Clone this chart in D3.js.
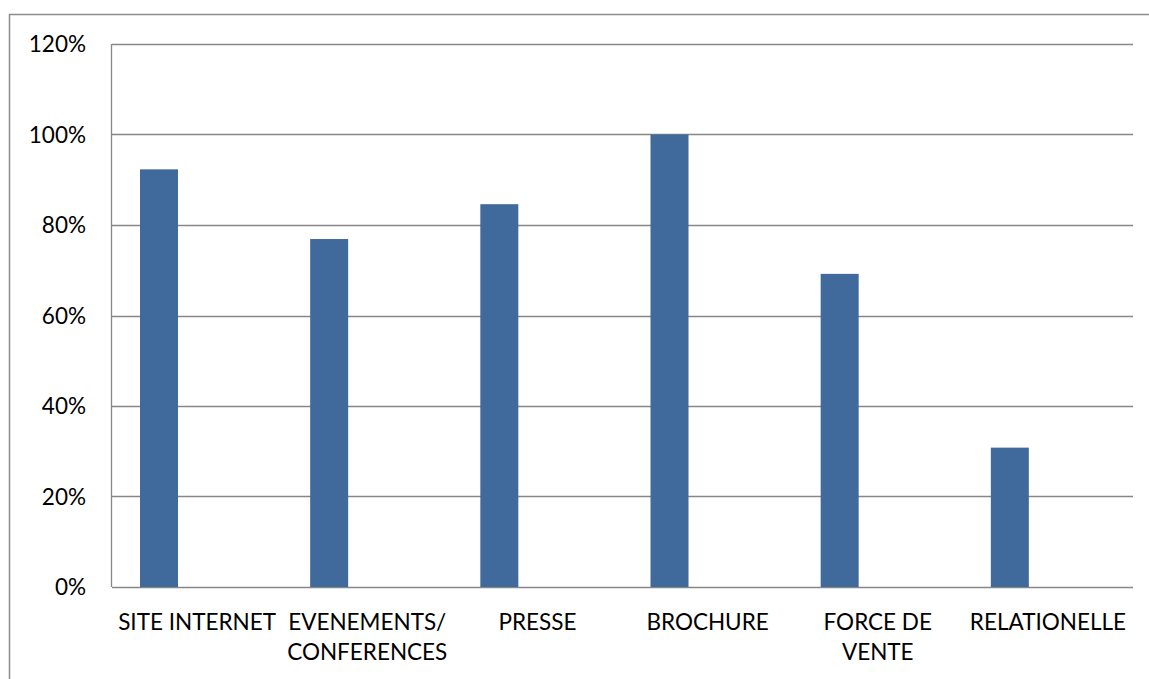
<!DOCTYPE html>
<html>
<head>
<meta charset="utf-8">
<script src="https://cdn.jsdelivr.net/npm/d3@7"></script>
<style>
  body { margin: 0; background: #fff; }
  text { font-family: Lato, "Open Sans", sans-serif; fill: #000; }
</style>
</head>
<body>
<div id="chart"></div>
<script>
// data
var categories = ["SITE INTERNET", "EVENEMENTS/\nCONFERENCES", "PRESSE", "BROCHURE", "FORCE DE\nVENTE", "RELATIONELLE"];
var values = [0.923, 0.769, 0.846, 1.0, 0.692, 0.308];
var yTicks = [0, 0.2, 0.4, 0.6, 0.8, 1.0, 1.2];

var svgWidth = 1149;
var svgHeight = 679;

var margin = { top: 44, right: 16, bottom: 92, left: 112 };
var width = 1133 - margin.left;
var height = 587 - margin.top;

var svg = d3.select("#chart")
  .append("svg")
  .attr("width", svgWidth)
  .attr("height", svgHeight);

// outer frame
svg.append("rect")
  .attr("x", 9.5)
  .attr("y", 14.5)
  .attr("width", svgWidth)
  .attr("height", svgHeight)
  .attr("fill", "none")
  .attr("stroke", "#8c8c8c")
  .attr("stroke-width", 1.5);

var chartGroup = svg.append("g")
  .attr("transform", `translate(${margin.left}, ${margin.top})`);

// scales
var xScale = d3.scaleBand()
  .domain(categories)
  .range([0, width]);

var yScale = d3.scaleLinear()
  .domain([0, 1.2])
  .range([height, 0]);

// gridlines
chartGroup.selectAll(".grid")
  .data(yTicks)
  .enter()
  .append("line")
  .attr("x1", 0)
  .attr("x2", width)
  .attr("y1", d => Math.round(yScale(d)) + 0.5)
  .attr("y2", d => Math.round(yScale(d)) + 0.5)
  .attr("stroke", "#878787")
  .attr("stroke-width", 1.3);

// y axis line
chartGroup.append("line")
  .attr("x1", -0.5).attr("x2", -0.5)
  .attr("y1", 0).attr("y2", height)
  .attr("stroke", "#878787")
  .attr("stroke-width", 1.3);

// y labels
var leftAxis = d3.axisLeft(yScale)
  .tickValues(yTicks)
  .tickFormat(d3.format(".0%"))
  .tickSize(0)
  .tickPadding(26);

var yAxisG = chartGroup.append("g").call(leftAxis);
yAxisG.select(".domain").remove();
yAxisG.selectAll("text")
  .style("font-size", "22.5px")
  .attr("dy", "0.35em");

// bars: sit in the left half of each band
var barWidth = 38;
chartGroup.selectAll(".bar")
  .data(values)
  .enter()
  .append("rect")
  .attr("x", (d, i) => xScale(categories[i]) + 28)
  .attr("y", d => yScale(d))
  .attr("width", barWidth)
  .attr("height", d => height - yScale(d))
  .attr("fill", "#40699c");

// x labels
var xLabels = chartGroup.selectAll(".xlabel")
  .data(categories)
  .enter()
  .append("text")
  .attr("text-anchor", "middle")
  .attr("transform", d => `translate(${xScale(d) + xScale.bandwidth() / 2}, ${height + 43})`)
  .style("font-size", "22.5px");

xLabels.each(function (d) {
  var lines = d.split("\n");
  var t = d3.select(this);
  lines.forEach(function (line, j) {
    t.append("tspan")
      .attr("x", 0)
      .attr("dy", j === 0 ? 0 : 30)
      .text(line);
  });
});
</script>
</body>
</html>
